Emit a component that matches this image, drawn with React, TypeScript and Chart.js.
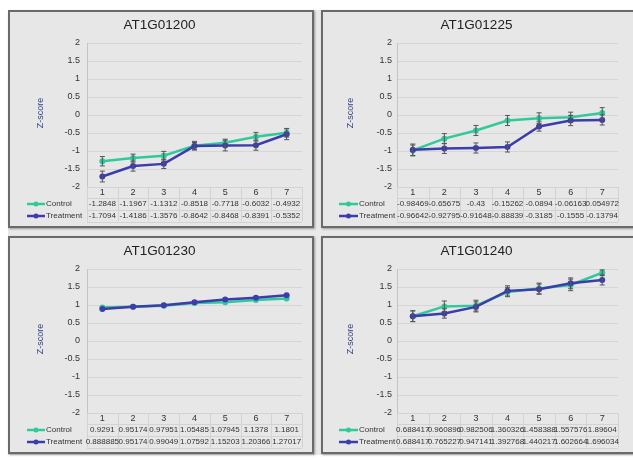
import React, { useEffect, useRef } from 'react';
import { Chart, registerables } from 'chart.js';

Chart.register(...registerables);

const categories = ['1', '2', '3', '4', '5', '6', '7'];
const seriesNames = ['Control', 'Treatment'];

const g1Title = 'AT1G01200';
const g1Control = [-1.2848, -1.1967, -1.1312, -0.8518, -0.7718, -0.6032, -0.4932];
const g1Treatment = [-1.7094, -1.4186, -1.3576, -0.8642, -0.8468, -0.8391, -0.5352];
const g1ControlErr = [0.13, 0.11, 0.12, 0.12, 0.1, 0.12, 0.12];
const g1TreatmentErr = [0.15, 0.14, 0.13, 0.1, 0.15, 0.14, 0.15];

const g2Title = 'AT1G01225';
const g2Control = [-0.98469, -0.65675, -0.43, -0.15262, -0.0894, -0.06163, 0.054972];
const g2Treatment = [-0.96642, -0.92795, -0.91648, -0.88839, -0.3185, -0.1555, -0.13794];
const g2ControlErr = [0.15, 0.14, 0.14, 0.14, 0.15, 0.14, 0.15];
const g2TreatmentErr = [0.16, 0.14, 0.14, 0.14, 0.13, 0.14, 0.14];

const g3Title = 'AT1G01230';
const g3Control = [0.9291, 0.95174, 0.97951, 1.05485, 1.07945, 1.1378, 1.1801];
const g3Treatment = [0.888885, 0.95174, 0.99049, 1.07592, 1.15203, 1.20366, 1.27017];
const g3ControlErr = [0, 0, 0, 0, 0, 0, 0];
const g3TreatmentErr = [0, 0, 0, 0, 0, 0, 0];

const g4Title = 'AT1G01240';
const g4Control = [0.688417, 0.960896, 0.982506, 1.360326, 1.458388, 1.557576, 1.89604];
const g4Treatment = [0.688417, 0.765227, 0.947141, 1.392768, 1.440217, 1.602664, 1.696034];
const g4ControlErr = [0.15, 0.15, 0.15, 0.13, 0.15, 0.16, 0.08];
const g4TreatmentErr = [0.15, 0.13, 0.14, 0.14, 0.14, 0.15, 0.14];

const yMin = -2;
const yMax = 2;
const yStep = 0.5;
const yTitle = 'Z-score';

const CONTROL_COLOR = '#30c99b';
const TREATMENT_COLOR = '#3c3cac';
const FONT = 'Arial, "Liberation Sans", sans-serif';

type PanelProps = {
  title: string;
  control: number[];
  treatment: number[];
  controlErr: number[];
  treatmentErr: number[];
  left: number;
  top: number;
  width: number;
  height: number;
  axisWidth: number;
  padRight: number;
  tickPad: number;
  yTitleX: number;
  keyX1: number;
  keyX2: number;
};

function Panel(p: PanelProps) {
  const ref = useRef<HTMLCanvasElement | null>(null);

  useEffect(() => {
    const canvas = ref.current;
    if (!canvas) return;

    const decor = {
      id: 'decor',
      beforeDraw(chart: any) {
        const ctx = chart.ctx;
        const ca = chart.chartArea;
        ctx.save();
        ctx.fillStyle = '#222';
        ctx.font = `13.5px ${FONT}`;
        ctx.textAlign = 'center';
        ctx.textBaseline = 'middle';
        ctx.fillText(p.title, chart.width / 2 - 1, 15);
        ctx.translate(p.yTitleX, (ca.top + ca.bottom) / 2 - 2);
        ctx.rotate(-Math.PI / 2);
        ctx.fillStyle = '#33458a';
        ctx.font = `9px ${FONT}`;
        ctx.fillText(yTitle, 0, 0);
        ctx.restore();
      },
      afterDatasetsDraw(chart: any) {
        const ctx = chart.ctx;
        const ys = chart.scales.y;
        ctx.save();
        ctx.strokeStyle = '#555';
        ctx.lineWidth = 1;
        chart.data.datasets.forEach((ds: any, i: number) => {
          const meta = chart.getDatasetMeta(i);
          ds.data.forEach((v: number, j: number) => {
            const e = ds.errors[j];
            if (!e) return;
            const x = meta.data[j].x;
            const y1 = ys.getPixelForValue(v + e);
            const y2 = ys.getPixelForValue(v - e);
            ctx.beginPath();
            ctx.moveTo(x, y1);
            ctx.lineTo(x, y2);
            ctx.moveTo(x - 2.5, y1);
            ctx.lineTo(x + 2.5, y1);
            ctx.moveTo(x - 2.5, y2);
            ctx.lineTo(x + 2.5, y2);
            ctx.stroke();
          });
        });
        ctx.restore();
      },
      afterDraw(chart: any) {
        const ctx = chart.ctx;
        const ca = chart.chartArea;
        const xs = chart.scales.x;
        const n = categories.length;
        const colW = (ca.right - ca.left) / n;
        ctx.save();
        ctx.strokeStyle = '#d3d3d3';
        ctx.lineWidth = 1;
        ctx.beginPath();
        [0, 10.5, 22.5, 34.5].forEach((dy) => {
          const y = Math.round(ca.bottom + dy) + 0.5;
          ctx.moveTo(ca.left, y);
          ctx.lineTo(ca.right, y);
        });
        for (let k = 0; k <= n; k++) {
          const x = Math.round(ca.left + k * colW) + 0.5;
          ctx.moveTo(x, ca.bottom);
          ctx.lineTo(x, ca.bottom + 34.5);
        }
        ctx.stroke();

        ctx.textAlign = 'center';
        ctx.textBaseline = 'middle';
        ctx.fillStyle = '#333';
        ctx.font = `9px ${FONT}`;
        categories.forEach((c, j) => {
          ctx.fillText(c, xs.getPixelForValue(j), ca.bottom + 5.5);
        });

        const rows = [
          { name: seriesNames[0], vals: p.control, color: CONTROL_COLOR, dy: 17 },
          { name: seriesNames[1], vals: p.treatment, color: TREATMENT_COLOR, dy: 29 },
        ];
        rows.forEach((r) => {
          const y = ca.bottom + r.dy;
          ctx.font = `8px ${FONT}`;
          ctx.fillStyle = '#333';
          ctx.textAlign = 'center';
          r.vals.forEach((v, j) => {
            ctx.fillText(String(v), xs.getPixelForValue(j), y);
          });
          ctx.strokeStyle = r.color;
          ctx.lineWidth = 2.5;
          ctx.beginPath();
          ctx.moveTo(p.keyX1, y);
          ctx.lineTo(p.keyX2, y);
          ctx.stroke();
          ctx.fillStyle = r.color;
          ctx.beginPath();
          ctx.arc((p.keyX1 + p.keyX2) / 2, y, 2.5, 0, Math.PI * 2);
          ctx.fill();
          ctx.fillStyle = '#333';
          ctx.textAlign = 'left';
          ctx.fillText(r.name, p.keyX2 + 1, y);
        });
        ctx.restore();
      },
    };

    const mk = (label: string, data: number[], errors: number[], color: string, order: number) => ({
      label,
      data,
      errors,
      order,
      borderColor: color,
      backgroundColor: color,
      borderWidth: 2.5,
      pointRadius: 3,
      pointBorderWidth: 0,
      pointBackgroundColor: color,
      tension: 0,
    });

    const chart = new Chart(canvas, {
      type: 'line',
      data: {
        labels: categories,
        datasets: [
          mk(seriesNames[0], p.control, p.controlErr, CONTROL_COLOR, 1) as any,
          mk(seriesNames[1], p.treatment, p.treatmentErr, TREATMENT_COLOR, 0) as any,
        ],
      },
      options: {
        responsive: false,
        animation: false,
        events: [],
        layout: { padding: { left: 0, right: p.padRight, top: 33, bottom: 41 } },
        plugins: {
          legend: { display: false },
          title: { display: false },
          tooltip: { enabled: false },
        },
        scales: {
          x: {
            type: 'category',
            display: false,
            offset: true,
          },
          y: {
            min: yMin,
            max: yMax,
            afterFit: (scale: any) => {
              scale.width = p.axisWidth;
            },
            ticks: {
              stepSize: yStep,
              padding: p.tickPad,
              color: '#333',
              font: { family: FONT, size: 9 },
              callback: (v: any) => String(Number(v)),
            },
            grid: {
              drawTicks: false,
              color: '#d6d6d6',
              lineWidth: 1,
            },
            border: { display: true, color: '#c4c4c4' },
          },
        },
      },
      plugins: [decor],
    });
    return () => chart.destroy();
  }, []);

  return (
    <>
      <div
        style={{
          position: 'absolute',
          left: p.left,
          top: p.top,
          width: p.width + 1,
          height: p.height,
          boxSizing: 'border-box',
          border: '2px solid #6a6a6a',
          background: '#e7e7e7',
          boxShadow: '1px 1px 2px rgba(0,0,0,0.35)',
        }}
      />
      <canvas
        ref={ref}
        width={p.width}
        height={p.height}
        style={{ position: 'absolute', left: p.left, top: p.top, width: p.width, height: p.height }}
      />
    </>
  );
}

export default function App() {
  const leftCommon = { left: 8, width: 305, height: 218, axisWidth: 79, padRight: 11, tickPad: 7, yTitleX: 33, keyX1: 19, keyX2: 37 };
  const rightCommon = { left: 321, width: 313, height: 218, axisWidth: 76, padRight: 16, tickPad: 5, yTitleX: 30, keyX1: 18, keyX2: 37 };
  return (
    <div
      style={{
        position: 'absolute',
        left: 0,
        top: 0,
        width: 633,
        height: 460,
        overflow: 'hidden',
        background: '#ffffff',
      }}
    >
      <div style={{ position: 'absolute', left: 8, top: 10, width: 625, height: 445, background: '#e9e9e9' }} />
      <Panel {...leftCommon} top={10} title={g1Title} control={g1Control} treatment={g1Treatment} controlErr={g1ControlErr} treatmentErr={g1TreatmentErr} />
      <Panel {...rightCommon} top={10} title={g2Title} control={g2Control} treatment={g2Treatment} controlErr={g2ControlErr} treatmentErr={g2TreatmentErr} />
      <Panel {...leftCommon} top={236} title={g3Title} control={g3Control} treatment={g3Treatment} controlErr={g3ControlErr} treatmentErr={g3TreatmentErr} />
      <Panel {...rightCommon} top={236} title={g4Title} control={g4Control} treatment={g4Treatment} controlErr={g4ControlErr} treatmentErr={g4TreatmentErr} />
    </div>
  );
}
